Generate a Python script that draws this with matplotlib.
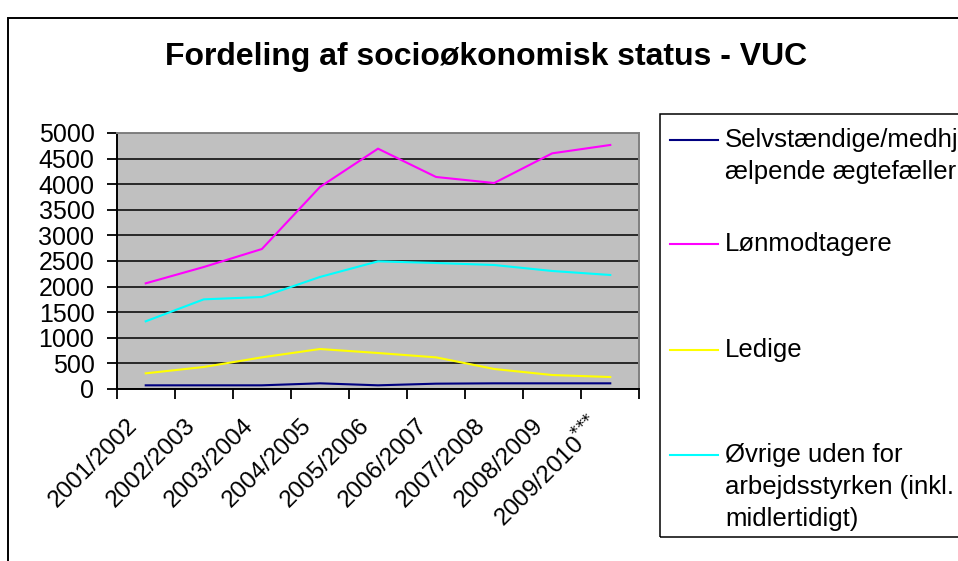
import numpy as np
import matplotlib.pyplot as plt
from matplotlib.patches import Rectangle
from matplotlib.lines import Line2D
from matplotlib.transforms import ScaledTranslation

plt.rcParams['font.family'] = ['Liberation Sans', 'DejaVu Sans']

# Skoleår og antal kursister pr. socioøkonomisk gruppe
aar = ['2001/2002', '2002/2003', '2003/2004', '2004/2005', '2005/2006',
       '2006/2007', '2007/2008', '2008/2009', '2009/2010$^{{*}{*}{*}}$']

selvstaendige = [72, 72, 72, 111, 72, 104, 111, 111, 111]
loenmodtagere = [2064, 2383, 2734, 3945, 4694, 4141, 4023, 4603, 4766]
ledige = [306, 430, 618, 781, 703, 618, 391, 273, 234]
oevrige = [1322, 1751, 1797, 2188, 2493, 2461, 2422, 2305, 2227]

serier = [
    ('Selvstændige/medhj\nælpende ægtefæller', selvstaendige, '#000080'),
    ('Lønmodtagere', loenmodtagere, '#FF00FF'),
    ('Ledige', ledige, '#FFFF00'),
    ('Øvrige uden for\narbejdsstyrken (inkl.\nmidlertidigt)', oevrige, '#00FFFF'),
]

W, H = 958, 561
fig = plt.figure(figsize=(W / 100, H / 100), dpi=100)

def fx(px):
    return px / W

def fy(py):
    return 1 - py / H

# ydre ramme om diagrammet
fig.patches.append(Rectangle((fx(8), fy(1000)), fx(1200), fy(18) - fy(1000),
                             transform=fig.transFigure, fill=False,
                             edgecolor='black', linewidth=1.4))

fig.text(fx(486), fy(57), 'Fordeling af socioøkonomisk status - VUC',
         ha='center', va='center', fontsize=23, fontweight='bold')

ax = fig.add_axes([fx(116.7), fy(389), fx(639.3 - 116.7), fy(133) - fy(389)])
ax.set_facecolor('#C0C0C0')

x = np.arange(len(aar))
for navn, vaerdier, farve in serier:
    ax.plot(x, vaerdier, color=farve, linewidth=1.5, zorder=3)

ax.set_xlim(-0.5, len(aar) - 0.5)
ax.set_ylim(0, 5000)
ax.set_yticks(np.arange(0, 5001, 500))
ax.grid(axis='y', color='black', linewidth=1.1)
ax.set_axisbelow(True)

# tickmarks mellem kategorierne, labels midt i kategorien
ax.set_xticks(np.arange(-0.5, len(aar), 1.0))
ax.set_xticklabels([])
ax.set_xticks(x, minor=True)
ax.set_xticklabels(aar, minor=True, rotation=45, ha='right', va='center',
                   rotation_mode='anchor', fontsize=17.5)
ax.tick_params(axis='x', which='major', direction='out', length=7, width=1.3)
ax.tick_params(axis='x', which='minor', length=0, pad=24)
ax.tick_params(axis='y', direction='out', length=7, width=1.3, pad=9, labelsize=18)

skift = ScaledTranslation(-0.12, 0, fig.dpi_scale_trans)
for lbl in ax.get_xticklabels(minor=True):
    lbl.set_transform(lbl.get_transform() + skift)

for side in ['left', 'bottom']:
    ax.spines[side].set_color('black')
    ax.spines[side].set_linewidth(1.4)
for side in ['top', 'right']:
    ax.spines[side].set_color('#808080')
    ax.spines[side].set_linewidth(1.4)

# forklaring tegnet i egen ramme
fig.patches.append(Rectangle((fx(660), fy(537)), fx(400), fy(114) - fy(537),
                             transform=fig.transFigure, fill=False,
                             edgecolor='black', linewidth=1.1))
start_y = [140, 244, 350, 455]
for (navn, _, farve), y0 in zip(serier, start_y):
    fig.add_artist(Line2D([fx(670), fx(718)], [fy(y0), fy(y0)],
                          transform=fig.transFigure, color=farve, linewidth=1.5))
    for i, linje in enumerate(navn.split('\n')):
        fig.text(fx(725), fy(y0 + i * 32), linje, ha='left', va='center',
                 fontsize=18.5)

fig.savefig('out.png', dpi=100)
